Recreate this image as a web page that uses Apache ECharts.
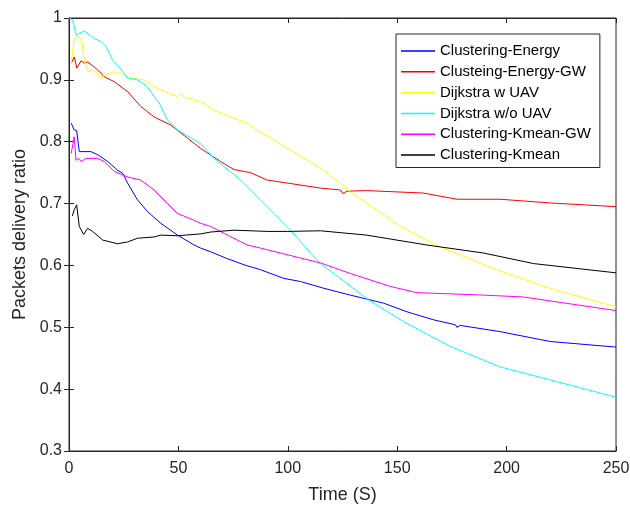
<!DOCTYPE html>
<html><head><meta charset="utf-8">
<script src="https://cdn.jsdelivr.net/npm/echarts@6/dist/echarts.min.js"></script>
<style>html,body{margin:0;padding:0;background:#fff}#c{width:630px;height:505px}</style>
</head><body><div id="c"></div>
<script>
const seriesNames = ["Clustering-Energy","Clusteing-Energy-GW","Dijkstra w UAV","Dijkstra w/o UAV","Clustering-Kmean-GW","Clustering-Kmean"];
const seriesColors = ["#0000ff","#ff0000","#ffff00","#00ffff","#ff00ff","#000000"];
const xTicks = [0,50,100,150,200,250];
const yTicks = [0.3,0.4,0.5,0.6,0.7,0.8,0.9,1];

const energyT = [1,2.4,3.5,4.7,10,13.1,17.7,22.2,24.5,26.8,31.3,35.9,42,49.6,57.2,60.2,64.8,71.6,80,87.6,98.2,105.8,116.5,128.6,143.8,154.5,166.7,176.6,177.3,178.8,197,219.9,250];
const energyV = [0.83,0.819,0.818,0.784,0.784,0.779,0.768,0.754,0.749,0.733,0.706,0.687,0.668,0.649,0.633,0.628,0.622,0.612,0.601,0.593,0.579,0.574,0.563,0.552,0.539,0.525,0.512,0.504,0.500,0.503,0.493,0.477,0.468];

const energyGwT = [1,2.4,3.6,5.5,7,8.5,11.5,14.6,16.1,20.7,26.8,32.8,38.9,46.5,54.1,60.2,69.3,75.4,83,90.6,98.2,115,124,125.3,127,136,162,177.3,197,219.9,250];
const energyGwV = [0.927,0.937,0.919,0.931,0.927,0.929,0.921,0.911,0.905,0.897,0.881,0.857,0.840,0.827,0.806,0.789,0.768,0.755,0.750,0.738,0.734,0.725,0.722,0.716,0.72,0.721,0.717,0.707,0.707,0.701,0.695];

const dijkUavT = [1,2.4,4.7,5.8,7,8.5,10.8,14.6,19.2,23.7,28.3,34.4,40.5,49.6,51.1,52.5,60.2,66.3,75.4,81.5,86,101,115,124,128.6,151.5,169.7,195.6,219.9,250];
const dijkUavV = [0.927,0.967,0.970,0.962,0.932,0.913,0.916,0.905,0.911,0.911,0.903,0.900,0.886,0.873,0.878,0.872,0.865,0.851,0.838,0.83,0.819,0.787,0.757,0.733,0.719,0.663,0.630,0.593,0.563,0.533];

const dijkNoUavT = [0,1.7,3.2,7,11.5,14.6,16.9,19.9,22.9,26.8,31.3,35.9,38.9,41.2,45,49.6,57.2,60.2,66.3,78.5,90.6,101.3,110.4,115,137,153,174.3,197.1,219.9,250];
const dijkNoUavV = [1.0,0.997,0.973,0.979,0.967,0.962,0.954,0.932,0.921,0.903,0.900,0.889,0.873,0.863,0.835,0.819,0.803,0.797,0.773,0.738,0.695,0.657,0.620,0.603,0.544,0.509,0.469,0.436,0.415,0.387];

const kmeanGwT = [1,2.4,3.2,4.2,5.8,7.8,13.1,16.1,20.7,26.8,32.8,38.9,45,49.6,57.2,60.2,64.8,72.4,81.5,87.6,105.8,115,128.6,146.9,159,189.5,207.7,250];
const kmeanGwV = [0.781,0.808,0.770,0.773,0.768,0.773,0.773,0.768,0.752,0.743,0.738,0.722,0.700,0.684,0.673,0.668,0.663,0.649,0.633,0.628,0.612,0.604,0.587,0.566,0.556,0.552,0.549,0.527];

const kmeanT = [1.5,2.4,3.5,4.7,6.7,8.5,10.8,15.4,22.2,26.8,31.3,38.9,42,49.6,60.2,64.8,75.4,90.6,100,115,136,163.6,189.5,212.3,250];
const kmeanV = [0.68,0.69,0.698,0.663,0.650,0.660,0.655,0.641,0.635,0.638,0.644,0.646,0.649,0.648,0.651,0.654,0.657,0.655,0.655,0.656,0.649,0.633,0.620,0.603,0.588];

const allT = [energyT, energyGwT, dijkUavT, dijkNoUavT, kmeanGwT, kmeanT];
const allV = [energyV, energyGwV, dijkUavV, dijkNoUavV, kmeanGwV, kmeanV];

const axisCol = '#262626';
const font = 'Liberation Sans, Arial, Helvetica, sans-serif';
const chart = echarts.init(document.getElementById('c'), null, {renderer:'canvas'});

const series = seriesNames.map((n,i)=>({
  name:n, type:'line', symbol:'none', showSymbol:false,
  data: allT[i].map((t,j)=>[t, allV[i][j]]),
  lineStyle:{color:seriesColors[i], width:1},
  itemStyle:{color:seriesColors[i]},
  emphasis:{disabled:true}, animation:false, clip:true
}));

chart.setOption({
  animation:false,
  backgroundColor:'#fff',
  grid:{left:69, right:14, top:18, bottom:54, outerBoundsMode:'none', containLabel:false,
        show:true, borderColor:axisCol, borderWidth:1, backgroundColor:'transparent'},
  xAxis:[{
    type:'value', min:xTicks[0], max:xTicks[xTicks.length-1], interval:50,
    name:'Time (S)', nameLocation:'middle', nameGap:35,
    nameTextStyle:{fontFamily:font, fontSize:18, color:axisCol},
    axisLine:{show:true, lineStyle:{color:axisCol}},
    axisTick:{show:true, inside:true, length:5, lineStyle:{color:axisCol}},
    axisLabel:{fontFamily:font, fontSize:16, color:axisCol, margin:10},
    splitLine:{show:false}
  },{
    type:'value', position:'top', min:xTicks[0], max:xTicks[xTicks.length-1], interval:50,
    axisLine:{show:true, lineStyle:{color:axisCol}},
    axisTick:{show:true, inside:true, length:5, lineStyle:{color:axisCol}},
    axisLabel:{show:false}, splitLine:{show:false}
  }],
  yAxis:[{
    type:'value', min:yTicks[0], max:yTicks[yTicks.length-1], interval:0.1,
    name:'Packets delivery ratio', nameLocation:'middle', nameGap:33,
    nameTextStyle:{fontFamily:font, fontSize:18, color:axisCol},
    axisLine:{show:true, lineStyle:{color:axisCol}},
    axisTick:{show:true, inside:true, length:5, lineStyle:{color:axisCol}},
    axisLabel:{fontFamily:font, fontSize:16, color:axisCol, margin:7,
      formatter:v=>String(+(+v).toFixed(1))},
    splitLine:{show:false}
  },{
    type:'value', position:'right', min:yTicks[0], max:yTicks[yTicks.length-1], interval:0.1,
    axisLine:{show:true, lineStyle:{color:axisCol}},
    axisTick:{show:true, inside:true, length:5, lineStyle:{color:axisCol}},
    axisLabel:{show:false}, splitLine:{show:false}
  }],
  legend:{
    data:seriesNames, orient:'vertical', left:396, top:34,
    icon:'rect', itemWidth:34, itemHeight:1.5, itemGap:5.8, itemTextGap:8,
    padding:[9.5,9,5,5],
    borderColor:axisCol, borderWidth:1, backgroundColor:'#fff',
    textStyle:{fontFamily:font, fontSize:15, color:'#000', lineHeight:14},
    selectedMode:false
  },
  series:series
});
</script></body></html>
